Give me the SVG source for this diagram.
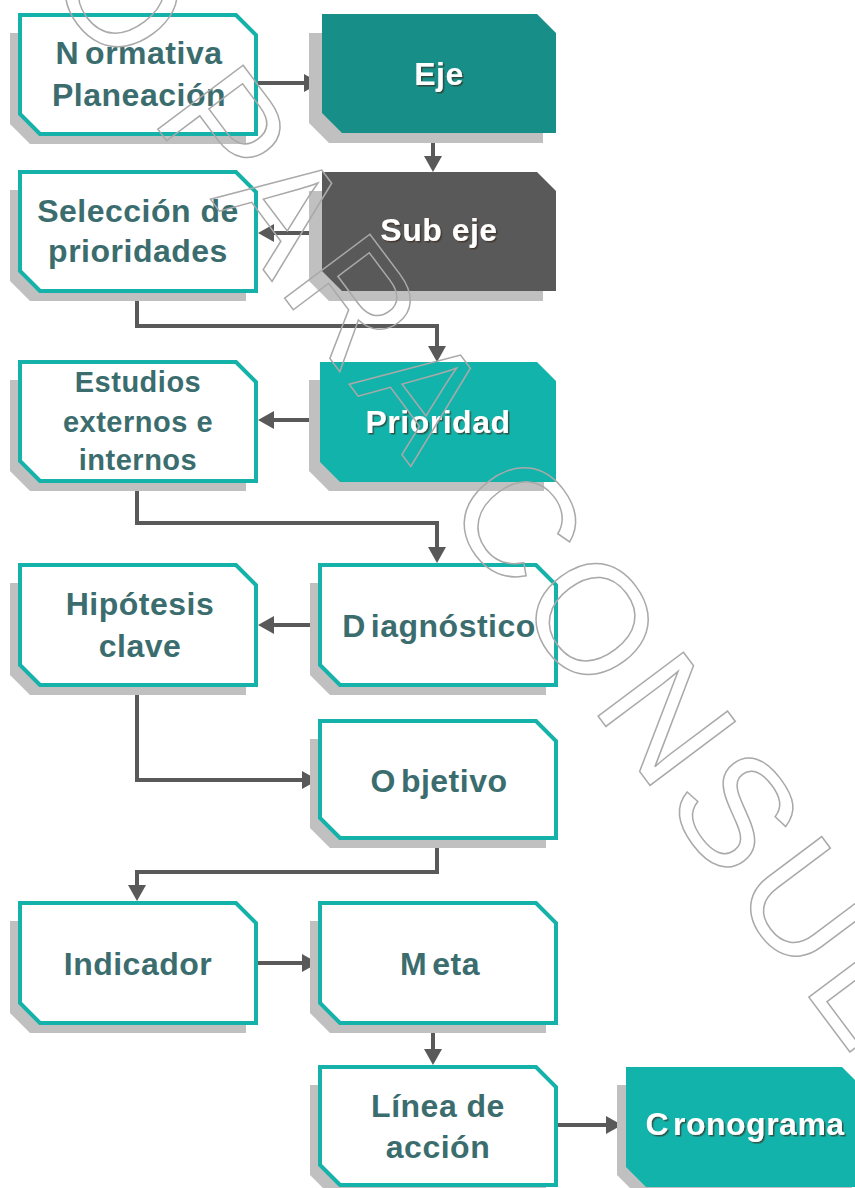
<svg xmlns="http://www.w3.org/2000/svg" width="855" height="1188" viewBox="0 0 855 1188">
<defs>
<style>
.sh{fill:#c0c0c0}
.ob{fill:#fff;stroke:#14b2a9;stroke-width:4;stroke-linejoin:miter}
.t{font-family:"Liberation Sans",Arial,sans-serif;font-weight:bold;font-size:32px;fill:#3b6d6e;text-anchor:middle;letter-spacing:0.5px}
.tw{font-family:"Liberation Sans",Arial,sans-serif;font-weight:bold;font-size:32px;fill:#fff;text-anchor:middle;letter-spacing:0.5px;filter:url(#ds)}
.c{fill:none;stroke:#595959;stroke-width:4;marker-end:url(#ah)}
.wm{font-family:"Liberation Sans",Arial,sans-serif;font-size:155px;letter-spacing:8px;fill:none;stroke:#a9a9a9;stroke-width:1.5}
</style>
<marker id="ah" markerUnits="userSpaceOnUse" markerWidth="16" markerHeight="18" refX="6" refY="9" orient="auto">
<path d="M0,0 L16,9 L0,18 Z" fill="#595959"/>
</marker>
<filter id="ds" filterUnits="userSpaceOnUse" x="0" y="0" width="855" height="1188">
<feDropShadow dx="1.5" dy="1.5" stdDeviation="0.6" flood-color="#3a2a1a" flood-opacity="0.7"/>
</filter>
</defs>
<rect width="855" height="1188" fill="#fff"/>

<g id="connectors">
<path class="c" d="M258,83 H310"/>
<path class="c" d="M433,133 V162"/>
<path class="c" d="M322,233 H268"/>
<path class="c" d="M137,293 V326 H437 V352"/>
<path class="c" d="M320,420 H268"/>
<path class="c" d="M137,483 V523 H437 V553"/>
<path class="c" d="M318,625 H268"/>
<path class="c" d="M137,687 V780 H308"/>
<path class="c" d="M437,840 V872 H137 V891"/>
<path class="c" d="M258,963 H308"/>
<path class="c" d="M433,1025 V1055"/>
<path class="c" d="M558,1125 H612"/>
</g>

<g id="normativa">
<polygon class="sh" points="10,33 246,33 246,144 30,144 10,124"/>
<polygon class="ob" points="20,15 236,15 256,35 256,134 40,134 20,114"/>
<text class="t" x="139" y="64"><tspan>N</tspan><tspan dx="6">ormativa</tspan></text>
<text class="t" x="139" y="106">Planeación</text>
</g>

<g id="eje">
<polygon class="sh" points="309,33 543,33 543,143 329,143 309,123"/>
<polygon fill="#178f88" points="322,14 537,14 556,33 556,133 342,133 322,113"/>
<text class="tw" x="439" y="85">Eje</text>
</g>

<g id="seleccion">
<polygon class="sh" points="10,190 246,190 246,301 30,301 10,281"/>
<polygon class="ob" points="20,172 236,172 256,192 256,291 40,291 20,271"/>
<text class="t" x="138" y="222">Selección de</text>
<text class="t" x="138" y="262">prioridades</text>
</g>

<g id="subeje">
<polygon class="sh" points="309,191 543,191 543,301 329,301 309,281"/>
<polygon fill="#595959" points="322,172 537,172 556,191 556,291 342,291 322,271"/>
<text class="tw" x="439" y="241">Sub eje</text>
</g>

<g id="estudios">
<polygon class="sh" points="10,380 246,380 246,491 30,491 10,471"/>
<polygon class="ob" points="20,362 236,362 256,382 256,481 40,481 20,461"/>
<text class="t" x="138" y="392" style="font-size:29px">Estudios</text>
<text class="t" x="138" y="432" style="font-size:29px">externos e</text>
<text class="t" x="138" y="470" style="font-size:29px">internos</text>
</g>

<g id="prioridad">
<polygon class="sh" points="309,380 544,380 544,491 329,491 309,471"/>
<polygon fill="#12b3aa" points="320,362 537,362 556,381 556,482 340,482 320,462"/>
<text class="tw" x="438" y="433">Prioridad</text>
</g>

<g id="hipotesis">
<polygon class="sh" points="10,583 246,583 246,695 30,695 10,675"/>
<polygon class="ob" points="20,565 236,565 256,585 256,685 40,685 20,665"/>
<text class="t" x="140" y="615">Hipótesis</text>
<text class="t" x="140" y="657">clave</text>
</g>

<g id="diagnostico">
<polygon class="sh" points="310,583 546,583 546,695 330,695 310,675"/>
<polygon class="ob" points="320,565 536,565 556,585 556,685 340,685 320,665"/>
<text class="t" x="439" y="637"><tspan>D</tspan><tspan dx="5">iagnóstico</tspan></text>
</g>

<g id="objetivo">
<polygon class="sh" points="310,739 546,739 546,848 330,848 310,828"/>
<polygon class="ob" points="320,721 536,721 556,741 556,838 340,838 320,818"/>
<text class="t" x="439" y="792"><tspan>O</tspan><tspan dx="5">bjetivo</tspan></text>
</g>

<g id="indicador">
<polygon class="sh" points="10,921 246,921 246,1033 30,1033 10,1013"/>
<polygon class="ob" points="20,903 236,903 256,923 256,1023 40,1023 20,1003"/>
<text class="t" x="138" y="975">Indicador</text>
</g>

<g id="meta">
<polygon class="sh" points="310,921 546,921 546,1033 330,1033 310,1013"/>
<polygon class="ob" points="320,903 536,903 556,923 556,1023 340,1023 320,1003"/>
<text class="t" x="440" y="975"><tspan>M</tspan><tspan dx="5">eta</tspan></text>
</g>

<g id="linea">
<polygon class="sh" points="310,1085 546,1085 546,1195 330,1195 310,1175"/>
<polygon class="ob" points="320,1067 536,1067 556,1087 556,1185 340,1185 320,1165"/>
<text class="t" x="438" y="1117">Línea de</text>
<text class="t" x="438" y="1158">acción</text>
</g>

<g id="cronograma">
<polygon class="sh" points="617,1085 852,1085 852,1195 637,1195 617,1175"/>
<polygon fill="#12b3aa" points="626,1067 842,1067 864,1089 864,1187 646,1187 626,1167"/>
<text class="tw" x="745" y="1135"><tspan>C</tspan><tspan dx="4">ronograma</tspan></text>
</g>

<g id="watermark">
<text class="wm" transform="translate(-158,-292) rotate(53.13)">SOLO PARA CONSULTA</text>
</g>
</svg>
